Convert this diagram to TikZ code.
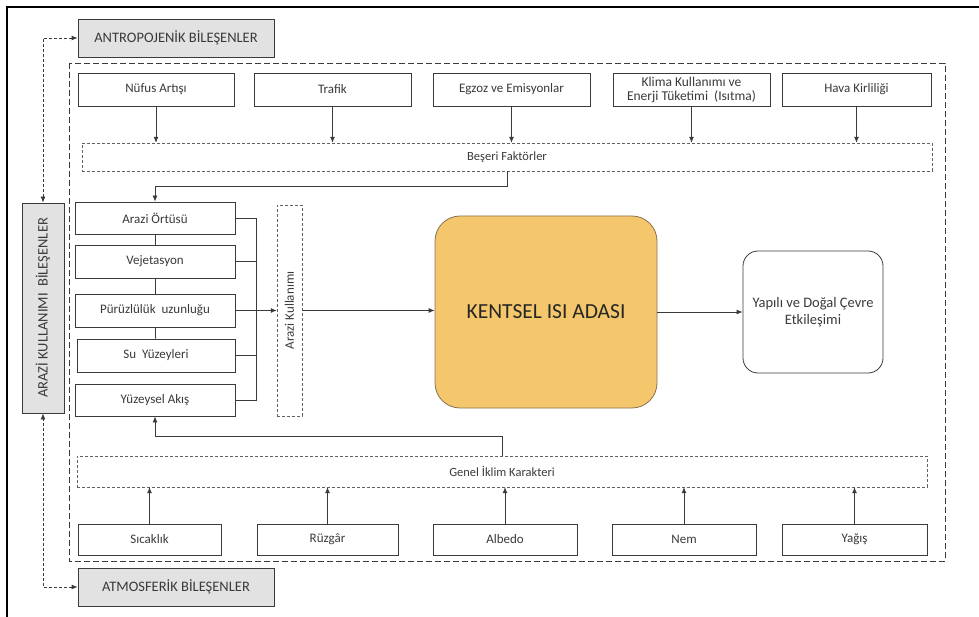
\documentclass[tikz,border=0pt]{standalone}
\usepackage{fontspec}
\setmainfont{Carlito}
\usepackage{tikz}
\usetikzlibrary{arrows.meta}
\definecolor{inkgray}{HTML}{3A3A3A}
\definecolor{heatfill}{HTML}{F5C76C}
\definecolor{heatline}{HTML}{8A7350}
\definecolor{groupfill}{HTML}{E2E2E2}
\tikzset{
  factbox/.style  = {draw=inkgray, thick, fill=white, inner sep=2pt,
                     font=\fontsize{13}{15}\selectfont, text=inkgray},
  groupbox/.style = {draw=inkgray, thick, fill=groupfill, inner sep=2pt,
                     font=\fontsize{14.5}{16}\selectfont, text=inkgray},
  dashbox/.style  = {draw=inkgray!80, dash pattern=on 3pt off 2pt,
                     inner sep=2pt, font=\fontsize{12.5}{14}\selectfont,
                     text=inkgray},
  flowar/.style   = {-{Latex[length=6pt,width=5pt]}, inkgray, thick},
  plainln/.style  = {inkgray, thick},
  linkar/.style   = {{Latex[length=6pt,width=5pt]}-{Latex[length=6pt,width=5pt]},
                     inkgray, thick, dash pattern=on 3pt off 2pt}
}

\begin{document}
\begin{tikzpicture}[x=1pt,y=-1pt]
  \useasboundingbox (0,0) rectangle (979,617);
  % outer frame and dashed region
  \draw[black, line width=1.6pt] (7,617) -- (7,7) -- (979,7);
  \draw[inkgray, thick, dash pattern=on 6pt off 3pt] (69,63) rectangle (945,561);

  % component groups
  \node[groupbox, minimum width=196, minimum height=38] (antro) at (176,38)
       {ANTROPOJENİK BİLEŞENLER};
  \node[groupbox, minimum width=196, minimum height=38] (atmo)  at (176,587)
       {ATMOSFERİK BİLEŞENLER};
  \node[groupbox, minimum width=42, minimum height=210] (arazibil) at (43,308)
       {\rotatebox{90}{ARAZİ KULLANIMI\ \ BİLEŞENLER}};
  \draw[linkar] (antro.west) -| (arazibil.north);
  \draw[linkar] (atmo.west)  -| (arazibil.south);

  % human factors
  \node[factbox, minimum width=156, minimum height=33] (nufus)  at (156,89.5)   {Nüfus Artışı};
  \node[factbox, minimum width=157, minimum height=33] (trafik) at (332.5,89.5) {Trafik};
  \node[factbox, minimum width=157, minimum height=33] (egzoz)  at (511.5,89.5) {Egzoz ve Emisyonlar};
  \node[factbox, minimum width=157, minimum height=33, align=center,
        font=\fontsize{13.5}{14}\selectfont] (klima) at (691.5,89.5)
       {Klima Kullanımı ve\\Enerji Tüketimi\ \ (Isıtma)};
  \node[factbox, minimum width=149, minimum height=33] (hava)   at (856.5,89.5) {Hava Kirliliği};
  \node[dashbox, minimum width=850, minimum height=28] (beseri) at (507,157) {Beşeri Faktörler};
  \foreach \n in {nufus,trafik,egzoz,klima,hava}
    \draw[flowar] (\n.south) -- (\n.south |- beseri.north);

  % land use column
  \node[factbox, minimum width=160, minimum height=32] (ortusu) at (155,218)   {Arazi Örtüsü};
  \node[factbox, minimum width=160, minimum height=33] (vejet)  at (155,261.5) {Vejetasyon};
  \node[factbox, minimum width=160, minimum height=33] (puruz)  at (155,310.5) {Pürüzlülük\ \ uzunluğu};
  \node[factbox, minimum width=158, minimum height=33] (suyuz)  at (156,355.5) {Su\ \ Yüzeyleri};
  \node[factbox, minimum width=160, minimum height=32] (akis)   at (155,400)   {Yüzeysel Akış};
  \node[dashbox, minimum width=25, minimum height=211, font=\fontsize{13}{15}\selectfont]
       (arazikul) at (289.5,310.5) {\rotatebox{90}{Arazi Kullanımı}};
  \coordinate (brk) at (256,218);
  \draw[plainln] (ortusu) -- (vejet);
  \draw[plainln] (vejet) -- (puruz);
  \draw[plainln] (puruz) -- (suyuz);
  \draw[plainln] (ortusu.east) -- (ortusu.east -| brk) -- (akis.east -| brk) -- (akis.east);
  \draw[plainln] (vejet.east) -- (vejet.east -| brk);
  \draw[plainln] (suyuz.east) -- (suyuz.east -| brk);
  \draw[flowar] (puruz.east) -- (arazikul.west);
  \draw[flowar] (beseri.south) -- ++(0,15) -| (ortusu.north);

  % heat island and result
  \node[draw=heatline, thick, fill=heatfill, rounded corners=25pt,
        minimum width=222, minimum height=192,
        font=\fontsize{21.5}{24}\selectfont, text=black!85] (kentsel) at (546,312)
       {KENTSEL ISI ADASI};
  \node[draw=inkgray, thick, rounded corners=15pt, minimum width=140,
        minimum height=122, align=center, text=inkgray,
        font=\fontsize{14.5}{17}\selectfont] (yapili) at (813,312)
       {Yapılı ve Doğal Çevre\\Etkileşimi};
  \draw[flowar] (arazikul.east) -- (arazikul.east -| kentsel.west);
  \draw[flowar] (kentsel.east) -- (yapili.west);

  % climate factors
  \node[dashbox, minimum width=850, minimum height=31] (genel) at (502,471.5) {Genel İklim Karakteri};
  \node[factbox, minimum width=143, minimum height=31] (sicak)  at (149.5,539.5) {Sıcaklık};
  \node[factbox, minimum width=141, minimum height=31] (ruzgar) at (327.5,539.5) {Rüzgâr};
  \node[factbox, minimum width=144, minimum height=31] (albedo) at (505,539.5)   {Albedo};
  \node[factbox, minimum width=144, minimum height=31] (nem)    at (684,539.5)   {Nem};
  \node[factbox, minimum width=145, minimum height=31] (yagis)  at (854.5,539.5) {Yağış};
  \foreach \n in {sicak,ruzgar,albedo,nem,yagis}
    \draw[flowar] (\n.north) -- (\n.north |- genel.south);
  \draw[flowar] (genel.north) -- ++(0,-19) -| (akis.south);
\end{tikzpicture}
\end{document}
